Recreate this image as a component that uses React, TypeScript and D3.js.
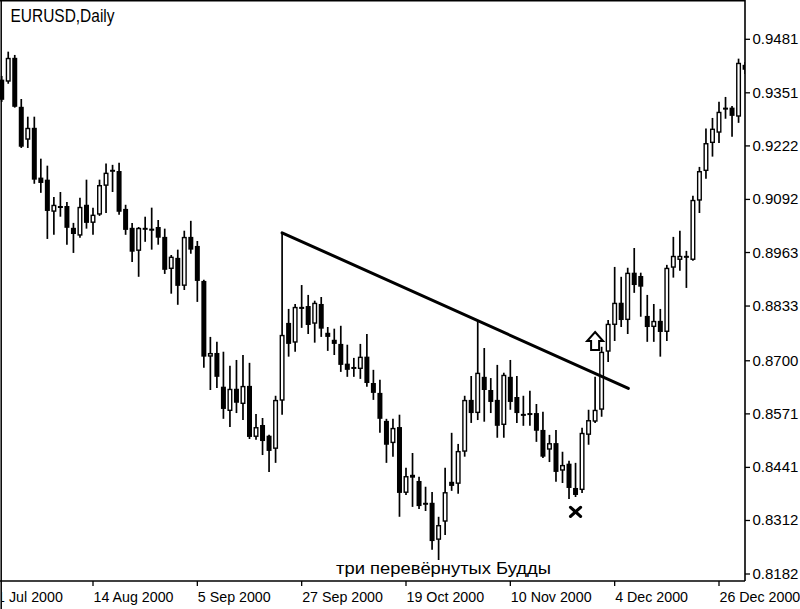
import React from "react";
import * as d3 from "d3";

// bar index of the first candle (index 13 = 14 Aug 2000)
const firstIndex = -1;

const opens = [
  0.9383, 0.9378, 0.9436, 0.9317, 0.9237, 0.9266, 0.9145, 0.9140, 0.9062, 0.9076,
  0.9076, 0.9023, 0.9004, 0.9079, 0.9035, 0.9055, 0.9125, 0.9161, 0.9161, 0.9069,
  0.9023, 0.8967, 0.9021, 0.9021, 0.9025, 0.9001, 0.8923, 0.8950, 0.8882, 0.9001,
  0.8979, 0.8894, 0.8710, 0.8719, 0.8637, 0.8578, 0.8632, 0.8595, 0.8639, 0.8515,
  0.8544, 0.8518, 0.8486, 0.8603, 0.8792, 0.8744, 0.8831, 0.8833, 0.8790, 0.8838,
  0.8768, 0.8751, 0.8741, 0.8693, 0.8685, 0.8680, 0.8710, 0.8646, 0.8622, 0.8554,
  0.8500, 0.8539, 0.8379, 0.8423, 0.8408, 0.8355, 0.8355, 0.8265, 0.8309, 0.8406,
  0.8401, 0.8479, 0.8605, 0.8573, 0.8661, 0.8629, 0.8605, 0.8544, 0.8661, 0.8612,
  0.8571, 0.8573, 0.8573, 0.8532, 0.8484, 0.8500, 0.8433, 0.8450, 0.8391, 0.8386,
  0.8520, 0.8552, 0.8581, 0.8722, 0.8787, 0.8841, 0.8799, 0.8914, 0.8906, 0.8809,
  0.8782, 0.8797, 0.8770, 0.8926, 0.8945, 0.8955, 0.8945, 0.9089, 0.9161, 0.9229,
  0.9254, 0.9312, 0.9315, 0.9293, 0.9419,
];
const highs = [
  0.9392, 0.9451, 0.9443, 0.9336, 0.9293, 0.9293, 0.9191, 0.9174, 0.9098, 0.9110,
  0.9086, 0.9035, 0.9096, 0.9140, 0.9072, 0.9140, 0.9179, 0.9176, 0.9181, 0.9079,
  0.9035, 0.9025, 0.9050, 0.9072, 0.9042, 0.9021, 0.8957, 0.8970, 0.9016, 0.9040,
  0.8991, 0.8897, 0.8758, 0.8746, 0.8722, 0.8688, 0.8702, 0.8714, 0.8695, 0.8571,
  0.8561, 0.8520, 0.8615, 0.9011, 0.8826, 0.8838, 0.8884, 0.8860, 0.8846, 0.8855,
  0.8782, 0.8778, 0.8785, 0.8739, 0.8707, 0.8741, 0.8765, 0.8678, 0.8654, 0.8559,
  0.8559, 0.8569, 0.8440, 0.8476, 0.8418, 0.8394, 0.8381, 0.8321, 0.8440, 0.8525,
  0.8498, 0.8615, 0.8663, 0.8797, 0.8731, 0.8658, 0.8690, 0.8671, 0.8702, 0.8663,
  0.8615, 0.8627, 0.8595, 0.8576, 0.8520, 0.8532, 0.8479, 0.8457, 0.8452, 0.8537,
  0.8581, 0.8661, 0.8734, 0.8799, 0.8928, 0.8904, 0.8926, 0.8974, 0.8914, 0.8860,
  0.8838, 0.8826, 0.8933, 0.9001, 0.9016, 0.8967, 0.9101, 0.9171, 0.9264, 0.9290,
  0.9329, 0.9341, 0.9319, 0.9434, 0.9426,
];
const lows = [
  0.9329, 0.9373, 0.9315, 0.9217, 0.9217, 0.9130, 0.9108, 0.8996, 0.9006, 0.9050,
  0.8982, 0.8962, 0.8999, 0.9021, 0.9006, 0.9052, 0.9059, 0.9110, 0.9055, 0.9006,
  0.8940, 0.8904, 0.8989, 0.8970, 0.8982, 0.8911, 0.8863, 0.8836, 0.8872, 0.8960,
  0.8843, 0.8683, 0.8629, 0.8634, 0.8559, 0.8539, 0.8573, 0.8556, 0.8510, 0.8508,
  0.8471, 0.8430, 0.8452, 0.8569, 0.8710, 0.8722, 0.8780, 0.8765, 0.8744, 0.8758,
  0.8724, 0.8714, 0.8673, 0.8661, 0.8661, 0.8656, 0.8637, 0.8605, 0.8525, 0.8452,
  0.8467, 0.8321, 0.8374, 0.8345, 0.8340, 0.8335, 0.8241, 0.8216, 0.8277, 0.8384,
  0.8377, 0.8467, 0.8549, 0.8556, 0.8552, 0.8573, 0.8513, 0.8513, 0.8581, 0.8549,
  0.8542, 0.8542, 0.8503, 0.8464, 0.8454, 0.8406, 0.8403, 0.8364, 0.8369, 0.8379,
  0.8496, 0.8549, 0.8564, 0.8697, 0.8748, 0.8782, 0.8765, 0.8865, 0.8807, 0.8746,
  0.8746, 0.8710, 0.8748, 0.8902, 0.8919, 0.8877, 0.8943, 0.9059, 0.9142, 0.9196,
  0.9229, 0.9288, 0.9244, 0.9278, 0.9397,
];
const closes = [
  0.9334, 0.9436, 0.9317, 0.9220, 0.9266, 0.9140, 0.9132, 0.9064, 0.9079, 0.9072,
  0.9023, 0.9008, 0.9074, 0.9035, 0.9055, 0.9127, 0.9157, 0.9164, 0.9062, 0.9018,
  0.8965, 0.9023, 0.9023, 0.9016, 0.8999, 0.8921, 0.8953, 0.8882, 0.9001, 0.8970,
  0.8894, 0.8710, 0.8719, 0.8661, 0.8583, 0.8632, 0.8598, 0.8639, 0.8515, 0.8539,
  0.8505, 0.8481, 0.8605, 0.8763, 0.8741, 0.8831, 0.8826, 0.8787, 0.8841, 0.8778,
  0.8758, 0.8741, 0.8690, 0.8678, 0.8683, 0.8710, 0.8646, 0.8622, 0.8559, 0.8496,
  0.8537, 0.8379, 0.8420, 0.8416, 0.8347, 0.8352, 0.8262, 0.8301, 0.8381, 0.8396,
  0.8481, 0.8605, 0.8573, 0.8671, 0.8629, 0.8600, 0.8542, 0.8666, 0.8600, 0.8573,
  0.8569, 0.8569, 0.8530, 0.8467, 0.8500, 0.8430, 0.8447, 0.8391, 0.8374, 0.8525,
  0.8556, 0.8581, 0.8722, 0.8790, 0.8841, 0.8799, 0.8914, 0.8884, 0.8880, 0.8782,
  0.8797, 0.8770, 0.8926, 0.8955, 0.8955, 0.8953, 0.9091, 0.9161, 0.9229, 0.9264,
  0.9305, 0.9315, 0.9295, 0.9424, 0.9407,
];

const xTickIndex = [-3, 13, 29, 45, 61, 77, 93, 109];
const xTickLabels = [
  "21 Jul 2000", "14 Aug 2000", "5 Sep 2000", "27 Sep 2000",
  "19 Oct 2000", "10 Nov 2000", "4 Dec 2000", "26 Dec 2000",
];
const yTickValues = [0.9481, 0.9351, 0.9222, 0.9092, 0.8963, 0.8833, 0.87, 0.8571, 0.8441, 0.8312, 0.8182];

const title = "EURUSD,Daily";
const caption = "три перевёрнутых Будды";

// annotations (bar index, price)
const trendIndex = [42, 95.1];
const trendPrice = [0.9011, 0.8633];
const arrowIndex = 90;
const arrowPrice = 0.877;
const crossIndex = 87;
const crossPrice = 0.8333;

const FONT = "'Liberation Sans', Arial, sans-serif";

export default function App() {
  const W = 800;
  const H = 609;
  const plotRight = 745;
  const plotBottom = 581;

  const x = d3.scaleLinear().domain([13, 109]).range([93, 719]);
  const y = d3.scaleLinear().domain([0.8182, 0.9481]).range([574, 39.3]);

  const bodyW = 5;

  const candles = opens.map((o, k) => ({
    i: firstIndex + k,
    o,
    h: highs[k],
    l: lows[k],
    c: closes[k],
  }));

  const trendLine = d3.line<number>()
    .x((_, k) => x(trendIndex[k]))
    .y((p) => y(p));

  const ax = x(arrowIndex);
  const ay = y(arrowPrice);
  const arrowPath = `M${ax},${ay} L${ax + 8},${ay + 9} L${ax + 4},${ay + 9} L${ax + 4},${ay + 18} L${ax - 4},${ay + 18} L${ax - 4},${ay + 9} L${ax - 8},${ay + 9} Z`;

  const cx = x(crossIndex);
  const cy = y(crossPrice);

  return (
    <svg
      width={W}
      height={H}
      viewBox={`0 0 ${W} ${H}`}
      style={{ position: "absolute", left: 0, top: 0, background: "#fff" }}
    >
      <defs>
        <clipPath id="plotClip">
          <rect x={0} y={0} width={plotRight} height={plotBottom} />
        </clipPath>
        <clipPath id="labelClip">
          <rect x={2} y={plotBottom} width={W} height={H - plotBottom} />
        </clipPath>
      </defs>
      <rect x={0} y={0} width={W} height={H} fill="#fff" />

      <g clipPath="url(#plotClip)">
        {candles.map((d) => {
          const cxx = x(d.i);
          const up = d.c >= d.o;
          const top = y(Math.max(d.o, d.c));
          const bot = y(Math.min(d.o, d.c));
          const bh = Math.max(bot - top, 2);
          return (
            <g key={d.i}>
              <line x1={cxx} x2={cxx} y1={y(d.h)} y2={y(d.l)} stroke="#000" strokeWidth={1.7} />
              {up ? (
                <rect
                  x={cxx - bodyW / 2 + 0.7}
                  y={top + 0.7}
                  width={bodyW - 1.4}
                  height={Math.max(bh - 1.4, 0.6)}
                  fill="#fff"
                  stroke="#000"
                  strokeWidth={1.4}
                />
              ) : (
                <rect x={cxx - bodyW / 2} y={top} width={bodyW} height={bh} fill="#000" />
              )}
            </g>
          );
        })}

        <path
          d={trendLine(trendPrice) || ""}
          stroke="#000"
          strokeWidth={3}
          fill="none"
          strokeLinecap="round"
        />

        <path d={arrowPath} fill="#fff" stroke="#000" strokeWidth={2} strokeLinejoin="miter" />

        <g stroke="#000" strokeWidth={3.2} strokeLinecap="round">
          <line x1={cx - 5} y1={cy - 4.5} x2={cx + 5} y2={cy + 4.5} />
          <line x1={cx - 5} y1={cy + 4.5} x2={cx + 5} y2={cy - 4.5} />
        </g>
      </g>

      {/* frame */}
      <line x1={0} x2={plotRight} y1={0.75} y2={0.75} stroke="#000" strokeWidth={1.5} />
      <line x1={1.2} x2={1.2} y1={0} y2={H} stroke="#000" strokeWidth={1.5} />
      <line x1={plotRight} x2={plotRight} y1={0} y2={plotBottom} stroke="#000" strokeWidth={1.6} />
      <line x1={0} x2={plotRight} y1={plotBottom} y2={plotBottom} stroke="#000" strokeWidth={1.6} />

      {/* y axis */}
      {yTickValues.map((v) => (
        <g key={v}>
          <line x1={plotRight} x2={plotRight + 5} y1={y(v)} y2={y(v)} stroke="#000" strokeWidth={1.3} />
          <text x={752.5} y={y(v) + 5} fontFamily={FONT} fontSize={15} fill="#000">
            {v.toFixed(4)}
          </text>
        </g>
      ))}

      {/* x axis */}
      <g clipPath="url(#labelClip)">
        {xTickIndex.map((t, k) => (
          <g key={t}>
            <line x1={x(t)} x2={x(t)} y1={plotBottom} y2={plotBottom + 5} stroke="#000" strokeWidth={1.3} />
            <text
              transform={`translate(${x(t) + 0.5},602) scale(0.92,1)`}
              fontFamily={FONT}
              fontSize={15.5}
              fill="#000"
            >
              {xTickLabels[k]}
            </text>
          </g>
        ))}
      </g>

      <text
        x={10.5}
        y={21.5}
        fontFamily={FONT}
        fontSize={17.5}
        fill="#000"
        textLength={104}
        lengthAdjust="spacingAndGlyphs"
      >
        {title}
      </text>

      <text
        x={336}
        y={574}
        fontFamily={FONT}
        fontSize={17}
        fill="#000"
        textLength={215}
        lengthAdjust="spacingAndGlyphs"
      >
        {caption}
      </text>
    </svg>
  );
}
